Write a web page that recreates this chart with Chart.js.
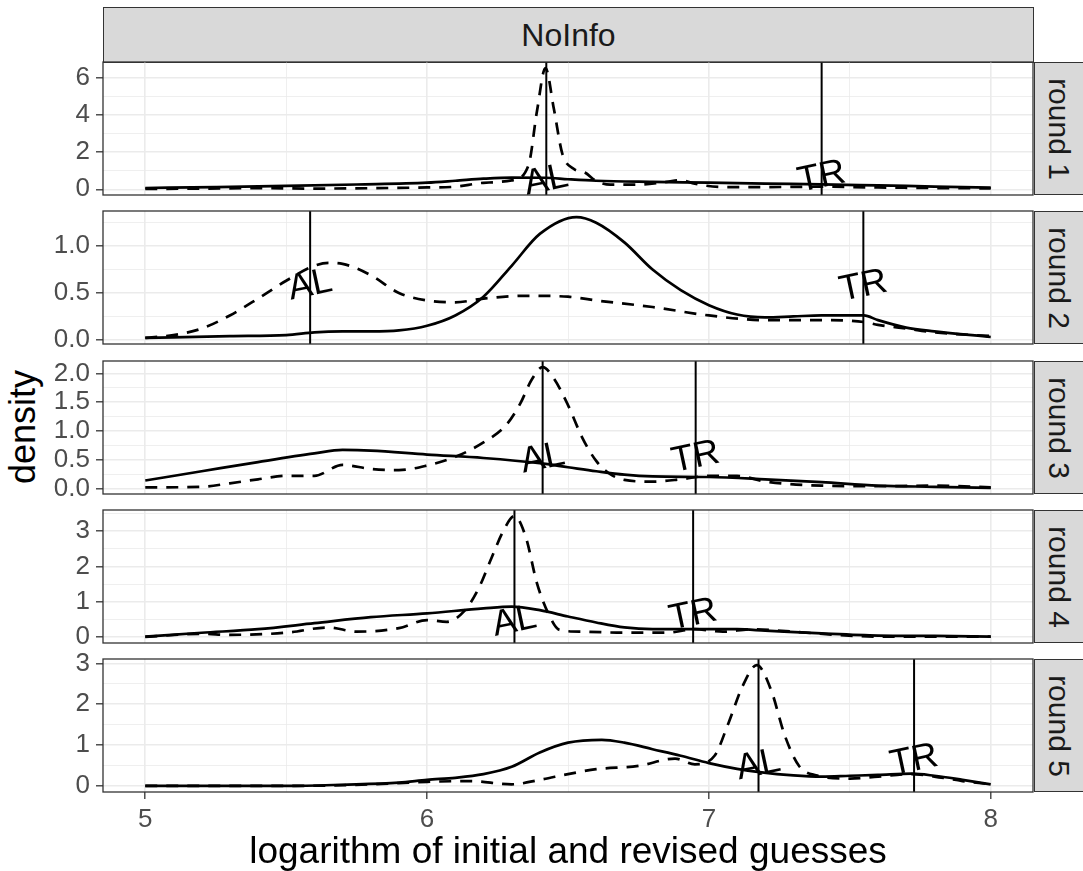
<!DOCTYPE html>
<html>
<head>
<meta charset="utf-8">
<title>NoInfo density by round</title>
<script src="https://cdn.jsdelivr.net/npm/chart.js@4.4.1/dist/chart.umd.min.js"></script>
<style>
  html, body { margin: 0; padding: 0; background: #fff; }
  #wrap { position: relative; width: 1083px; height: 871px; overflow: hidden; font-family: "Liberation Sans", Arial, sans-serif; }
  #wrap canvas { position: absolute; left: 0; }
  .strip { position: absolute; box-sizing: border-box; background: #d9d9d9; border: 1px solid #333; color: #1a1a1a; display: flex; align-items: center; justify-content: center; font-size: 30px; }
  #facet { font-size: 32px; }
  .strip.side span { transform: rotate(90deg); white-space: nowrap; }
  #ytitle { position: absolute; left: 23px; top: 427px; transform: translate(-50%, -50%) rotate(-90deg); font-size: 36px; white-space: nowrap; color: #000; }
</style>
</head>
<body>
<div id="wrap">
  <div class="strip" id="facet" style="left:103px; top:7px; width:931px; height:56px;"></div>
  <div id="ytitle"></div>
</div>
<script>
const FONT = '"Liberation Sans", Arial, sans-serif';

const facetTitle = 'NoInfo';
const rounds = ['round 1', 'round 2', 'round 3', 'round 4', 'round 5'];
const markLabels = ['AL', 'TR'];
const xTitle = 'logarithm of initial and revised guesses';
const yTitle = 'density';

const xMajor = [5, 6, 7, 8];
const xMinor = [5.5, 6.5, 7.5];

const yMajor = [[0, 2, 4, 6], [0, 0.5, 1], [0, 0.5, 1, 1.5, 2], [0, 1, 2, 3], [0, 1, 2, 3]];
const yMinor = [[1, 3, 5], [0.25, 0.75, 1.25], [0.25, 0.75, 1.25, 1.75], [0.5, 1.5, 2.5, 3.5], [0.5, 1.5, 2.5]];
const yDigits = [0, 1, 1, 0, 0];

// vertical reference lines and where their labels sit
const alX = [6.423, 5.585, 6.41, 6.31, 7.176];
const trX = [7.40, 7.548, 6.953, 6.944, 7.728];
const alLabelY = [0.46, 0.58, 0.52, 0.43, 0.51];
const trLabelY = [0.65, 0.57, 0.54, 0.62, 0.62];

// round 1
const r1SolidX = [5.0, 5.25, 5.5, 5.75, 6.0, 6.1, 6.2, 6.3, 6.42, 6.5, 6.6, 6.8, 7.0, 7.2, 7.4, 7.6, 7.8, 8.0];
const r1SolidY = [0.07, 0.12, 0.18, 0.26, 0.36, 0.46, 0.57, 0.63, 0.62, 0.54, 0.46, 0.40, 0.36, 0.31, 0.27, 0.21, 0.15, 0.09];
const r1DashX = [5.0, 5.2, 5.4, 5.6, 5.8, 6.0, 6.1, 6.2, 6.3, 6.36, 6.39, 6.42, 6.45, 6.48, 6.52, 6.56, 6.6, 6.65, 6.75, 6.85, 6.9, 6.95, 7.05, 7.2, 7.4, 7.6, 7.8, 8.0];
const r1DashY = [0.02, 0.04, 0.06, 0.04, 0.06, 0.10, 0.14, 0.35, 0.48, 1.3, 4.2, 6.5, 4.3, 1.9, 1.1, 0.9, 0.45, 0.25, 0.25, 0.4, 0.5, 0.3, 0.12, 0.12, 0.14, 0.10, 0.07, 0.05];

// round 2
const r2SolidX = [5.0, 5.3, 5.5, 5.6, 5.7, 5.8, 5.9, 6.0, 6.1, 6.2, 6.3, 6.4, 6.53, 6.6, 6.7, 6.8, 6.9, 7.0, 7.1, 7.2, 7.3, 7.4, 7.5, 7.55, 7.6, 7.7, 7.8, 8.0];
const r2SolidY = [0.02, 0.04, 0.05, 0.08, 0.09, 0.09, 0.10, 0.15, 0.26, 0.46, 0.79, 1.13, 1.31, 1.25, 1.04, 0.75, 0.53, 0.37, 0.27, 0.24, 0.25, 0.26, 0.26, 0.26, 0.21, 0.13, 0.09, 0.03];
const r2DashX = [5.0, 5.1, 5.2, 5.3, 5.4, 5.5, 5.6, 5.65, 5.7, 5.8, 5.9, 6.0, 6.1, 6.2, 6.35, 6.5, 6.6, 6.8, 7.0, 7.2, 7.4, 7.55, 7.6, 7.7, 7.8, 8.0];
const r2DashY = [0.02, 0.05, 0.12, 0.26, 0.44, 0.63, 0.79, 0.82, 0.81, 0.69, 0.50, 0.42, 0.40, 0.44, 0.47, 0.46, 0.42, 0.35, 0.26, 0.21, 0.21, 0.19, 0.16, 0.12, 0.08, 0.04];

// round 3
const r3SolidX = [5.0, 5.2, 5.4, 5.6, 5.7, 5.8, 6.0, 6.2, 6.4, 6.5, 6.6, 6.7, 6.8, 7.0, 7.2, 7.4, 7.6, 7.8, 8.0];
const r3SolidY = [0.14, 0.30, 0.46, 0.61, 0.67, 0.66, 0.59, 0.53, 0.44, 0.37, 0.30, 0.24, 0.21, 0.20, 0.16, 0.11, 0.05, 0.03, 0.01];
const r3DashX = [5.0, 5.2, 5.3, 5.4, 5.5, 5.6, 5.7, 5.8, 5.9, 6.0, 6.1, 6.2, 6.28, 6.33, 6.37, 6.41, 6.45, 6.5, 6.55, 6.6, 6.65, 6.7, 6.8, 6.9, 7.0, 7.1, 7.2, 7.4, 7.6, 7.8, 8.0];
const r3DashY = [0.02, 0.03, 0.09, 0.16, 0.22, 0.22, 0.41, 0.34, 0.32, 0.40, 0.55, 0.80, 1.10, 1.47, 1.88, 2.11, 1.91, 1.45, 0.89, 0.48, 0.25, 0.15, 0.12, 0.16, 0.22, 0.22, 0.12, 0.05, 0.04, 0.05, 0.02];

// round 4
const r4SolidX = [5.0, 5.2, 5.4, 5.6, 5.8, 6.0, 6.2, 6.3, 6.4, 6.5, 6.6, 6.7, 6.8, 6.95, 7.1, 7.2, 7.4, 7.6, 7.8, 8.0];
const r4SolidY = [0.01, 0.12, 0.22, 0.39, 0.56, 0.67, 0.81, 0.86, 0.76, 0.58, 0.41, 0.27, 0.22, 0.22, 0.22, 0.18, 0.10, 0.04, 0.03, 0.01];
const r4DashX = [5.0, 5.2, 5.3, 5.5, 5.65, 5.75, 5.9, 6.0, 6.07, 6.13, 6.18, 6.23, 6.27, 6.31, 6.35, 6.39, 6.43, 6.47, 6.55, 6.7, 6.85, 6.95, 7.05, 7.15, 7.3, 7.45, 7.6, 8.0];
const r4DashY = [0.0, 0.09, 0.06, 0.12, 0.27, 0.15, 0.25, 0.48, 0.43, 0.72, 1.33, 2.27, 3.0, 3.43, 2.84, 1.52, 0.67, 0.20, 0.15, 0.12, 0.12, 0.22, 0.15, 0.22, 0.15, 0.06, 0.01, 0.01];

// round 5
const r5SolidX = [5.0, 5.5, 5.7, 5.9, 6.0, 6.1, 6.2, 6.3, 6.4, 6.5, 6.62, 6.7, 6.8, 6.9, 7.0, 7.1, 7.18, 7.3, 7.4, 7.5, 7.6, 7.72, 7.8, 7.9, 8.0];
const r5SolidY = [0.0, 0.0, 0.03, 0.08, 0.15, 0.20, 0.29, 0.47, 0.82, 1.06, 1.13, 1.06, 0.90, 0.74, 0.56, 0.42, 0.34, 0.26, 0.23, 0.25, 0.27, 0.30, 0.25, 0.15, 0.04];
const r5DashX = [5.0, 5.5, 5.8, 6.0, 6.15, 6.3, 6.4, 6.5, 6.6, 6.75, 6.88, 6.95, 7.02, 7.07, 7.12, 7.17, 7.22, 7.27, 7.32, 7.38, 7.5, 7.6, 7.72, 7.8, 7.9, 8.0];
const r5DashY = [0.0, 0.0, 0.04, 0.10, 0.12, 0.04, 0.15, 0.29, 0.41, 0.49, 0.67, 0.53, 0.74, 1.55, 2.45, 2.96, 2.36, 1.22, 0.49, 0.26, 0.18, 0.23, 0.29, 0.23, 0.12, 0.04];

const panels = [
  { sx: r1SolidX, sy: r1SolidY, dx: r1DashX, dy: r1DashY },
  { sx: r2SolidX, sy: r2SolidY, dx: r2DashX, dy: r2DashY },
  { sx: r3SolidX, sy: r3SolidY, dx: r3DashX, dy: r3DashY },
  { sx: r4SolidX, sy: r4SolidY, dx: r4DashX, dy: r4DashY },
  { sx: r5SolidX, sy: r5SolidY, dx: r5DashX, dy: r5DashY }
];

const PANEL_TOPS = [62, 211, 361, 510, 659];
const PANEL_H = 133;
const PAGE_H = 871;
const PAD = 14;

const wrap = document.getElementById('wrap');
document.getElementById('facet').textContent = facetTitle;
document.getElementById('ytitle').textContent = yTitle;

const toPoints = (xs, ys) => xs.map((x, k) => ({ x: x, y: ys[k] }));

// panel border + rotated AL / TR labels
const panelFrame = {
  id: 'panelFrame',
  afterDatasetsDraw(chart, args, opts) {
    const { ctx, chartArea: a, scales: { x, y } } = chart;
    ctx.save();
    ctx.fillStyle = '#000';
    ctx.font = '36px ' + FONT;
    ctx.textAlign = 'center';
    ctx.textBaseline = 'middle';
    opts.marks.forEach(m => {
      ctx.save();
      ctx.translate(x.getPixelForValue(m.x), y.getPixelForValue(m.y));
      ctx.rotate(-12 * Math.PI / 180);
      ctx.fillText(m.text, 0, 0);
      ctx.restore();
    });
    ctx.strokeStyle = '#333333';
    ctx.lineWidth = 1.3;
    ctx.strokeRect(a.left, a.top, a.right - a.left, a.bottom - a.top);
    ctx.restore();
  }
};

panels.forEach((p, i) => {
  const last = i === panels.length - 1;
  const top = PANEL_TOPS[i];
  const canvasTop = top - PAD;
  const canvasH = last ? PAGE_H - canvasTop : PANEL_H + 2 * PAD;

  const canvas = document.createElement('canvas');
  canvas.width = 1083;
  canvas.height = canvasH;
  canvas.style.top = canvasTop + 'px';
  canvas.style.width = '1083px';
  canvas.style.height = canvasH + 'px';
  wrap.appendChild(canvas);

  const all = p.sy.concat(p.dy);
  const lo = Math.min(...all);
  const hi = Math.max(...all);
  const yMin = lo - 0.05 * (hi - lo);
  const yMax = hi + 0.05 * (hi - lo);
  const majorY = v => yMajor[i].includes(v);
  const majorX = v => xMajor.includes(v);

  new Chart(canvas, {
    type: 'line',
    data: {
      datasets: [
        { data: toPoints(p.sx, p.sy), borderColor: '#000', borderWidth: 2.7 },
        { data: toPoints(p.dx, p.dy), borderColor: '#000', borderWidth: 2.7, borderDash: [12, 9] },
        { data: [{ x: alX[i], y: yMin }, { x: alX[i], y: yMax }], borderColor: '#000', borderWidth: 2, cubicInterpolationMode: 'default', tension: 0 },
        { data: [{ x: trX[i], y: yMin }, { x: trX[i], y: yMax }], borderColor: '#000', borderWidth: 2, cubicInterpolationMode: 'default', tension: 0 }
      ]
    },
    options: {
      responsive: false,
      animation: false,
      events: [],
      layout: { padding: { top: PAD, right: 50, bottom: last ? 0 : PAD, left: 0 } },
      elements: {
        point: { radius: 0 },
        line: { fill: false, cubicInterpolationMode: 'monotone', borderCapStyle: 'butt' }
      },
      plugins: {
        legend: { display: false },
        tooltip: { enabled: false },
        panelFrame: {
          marks: [
            { text: markLabels[0], x: alX[i], y: alLabelY[i] },
            { text: markLabels[1], x: trX[i], y: trLabelY[i] }
          ]
        }
      },
      scales: {
        x: {
          type: 'linear',
          min: 4.85,
          max: 8.15,
          afterBuildTicks: s => { s.ticks = xMajor.concat(xMinor).sort((a, b) => a - b).map(v => ({ value: v })); },
          afterFit: s => { s.height = last ? PAGE_H - (top + PANEL_H) : 0; s.paddingLeft = 0; s.paddingRight = 0; },
          border: { display: false },
          grid: {
            color: '#ebebeb',
            lineWidth: c => (c.tick && majorX(c.tick.value)) ? 1.6 : 0.8,
            drawTicks: last,
            tickLength: 7,
            tickWidth: 1.3,
            tickColor: c => (c.tick && majorX(c.tick.value)) ? '#333333' : 'rgba(0,0,0,0)'
          },
          ticks: {
            display: last,
            autoSkip: false,
            maxRotation: 0,
            padding: 5,
            color: '#4d4d4d',
            font: { family: FONT, size: 26 },
            callback: v => majorX(v) ? String(v) : ''
          },
          title: {
            display: last,
            text: xTitle,
            color: '#000',
            font: { family: FONT, size: 37, lineHeight: 1 },
            padding: { top: 0, bottom: 0 }
          }
        },
        y: {
          min: yMin,
          max: yMax,
          afterBuildTicks: s => { s.ticks = yMajor[i].concat(yMinor[i]).sort((a, b) => a - b).map(v => ({ value: v })); },
          afterFit: s => { s.width = 103; s.paddingTop = 0; s.paddingBottom = 0; },
          border: { display: false },
          grid: {
            color: '#ebebeb',
            lineWidth: c => (c.tick && majorY(c.tick.value)) ? 1.6 : 0.8,
            tickLength: 7,
            tickWidth: 1.3,
            tickColor: c => (c.tick && majorY(c.tick.value)) ? '#333333' : 'rgba(0,0,0,0)'
          },
          ticks: {
            autoSkip: false,
            padding: 6,
            color: '#4d4d4d',
            font: { family: FONT, size: 26 },
            callback: v => majorY(v) ? v.toFixed(yDigits[i]) : ''
          }
        }
      }
    },
    plugins: [panelFrame]
  });

  const strip = document.createElement('div');
  strip.className = 'strip side';
  strip.style.cssText = 'left:1034px; top:' + top + 'px; width:50px; height:' + PANEL_H + 'px;';
  const label = document.createElement('span');
  label.textContent = rounds[i];
  strip.appendChild(label);
  wrap.appendChild(strip);
});
</script>
</body>
</html>
